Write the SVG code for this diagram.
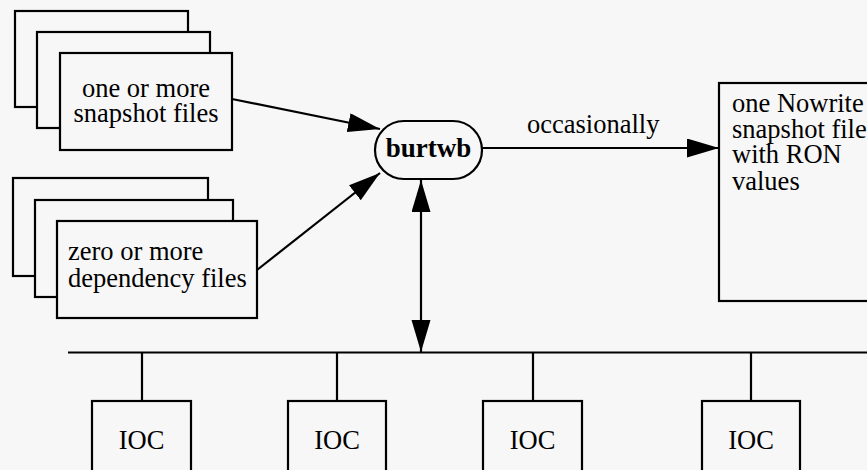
<svg xmlns="http://www.w3.org/2000/svg" width="867" height="470" viewBox="0 0 867 470">
<defs>
<marker id="ah" markerUnits="userSpaceOnUse" markerWidth="34" markerHeight="20" refX="32" refY="9.5" orient="auto-start-reverse">
<path d="M0,0 L32,9.5 L0,19 Z" fill="#000"/>
</marker>
<style>
.b{fill:#f7f7f7;stroke:#000;stroke-width:2.2}
.t{font-family:"Liberation Serif","DejaVu Serif",serif;font-size:26.5px;fill:#000}
.bold{font-weight:bold;font-size:27px}
.c{stroke:#000;stroke-width:2.2;fill:none}
</style>
</defs>
<rect width="867" height="470" fill="#f7f7f7"/>
<g id="snapshot-files">
<rect class="b" x="15" y="11" width="173" height="96"/>
<rect class="b" x="37" y="32" width="173" height="96"/>
<rect class="b" x="60" y="53" width="172" height="97"/>
<text class="t" x="146" y="97" text-anchor="middle">one or more</text>
<text class="t" x="146" y="122" text-anchor="middle">snapshot files</text>
</g>
<g id="dependency-files">
<rect class="b" x="13" y="178" width="195" height="98"/>
<rect class="b" x="35" y="200" width="198" height="97"/>
<rect class="b" x="57" y="221" width="200" height="97"/>
<text class="t" x="68" y="260">zero or more</text>
<text class="t" x="68" y="287">dependency files</text>
</g>
<g id="burtwb">
<rect class="b" x="375" y="121" width="107" height="58" rx="29" ry="29"/>
<text class="t bold" x="428.5" y="157" text-anchor="middle">burtwb</text>
</g>
<g id="nowrite-file">
<rect class="b" x="719" y="83" width="160" height="218"/>
<text class="t" x="732" y="112">one Nowrite</text>
<text class="t" x="732" y="138">snapshot file</text>
<text class="t" x="732" y="163">with RON</text>
<text class="t" x="732" y="190">values</text>
</g>
<g id="ioc1">
<rect class="b" x="92" y="401" width="99" height="80"/>
<text class="t" x="141.5" y="449" text-anchor="middle">IOC</text>
</g>
<g id="ioc2">
<rect class="b" x="288" y="401" width="98" height="80"/>
<text class="t" x="337" y="449" text-anchor="middle">IOC</text>
</g>
<g id="ioc3">
<rect class="b" x="483" y="401" width="99" height="80"/>
<text class="t" x="532.5" y="449" text-anchor="middle">IOC</text>
</g>
<g id="ioc4">
<rect class="b" x="702" y="401" width="98" height="80"/>
<text class="t" x="751" y="449" text-anchor="middle">IOC</text>
</g>
<g id="connectors">
<line class="c" x1="232" y1="99" x2="380" y2="129" marker-end="url(#ah)"/>
<line class="c" x1="257" y1="270" x2="380" y2="173" marker-end="url(#ah)"/>
<line class="c" x1="482" y1="148" x2="719" y2="148" marker-end="url(#ah)"/>
<line class="c" x1="421" y1="180" x2="421" y2="352" marker-start="url(#ah)" marker-end="url(#ah)"/>
<line class="c" x1="68" y1="352.5" x2="867" y2="352.5"/>
<line class="c" x1="142" y1="352" x2="142" y2="401"/>
<line class="c" x1="337" y1="352" x2="337" y2="401"/>
<line class="c" x1="533" y1="352" x2="533" y2="401"/>
<line class="c" x1="751" y1="352" x2="751" y2="401"/>
<text class="t" x="527" y="133">occasionally</text>
</g>
</svg>
